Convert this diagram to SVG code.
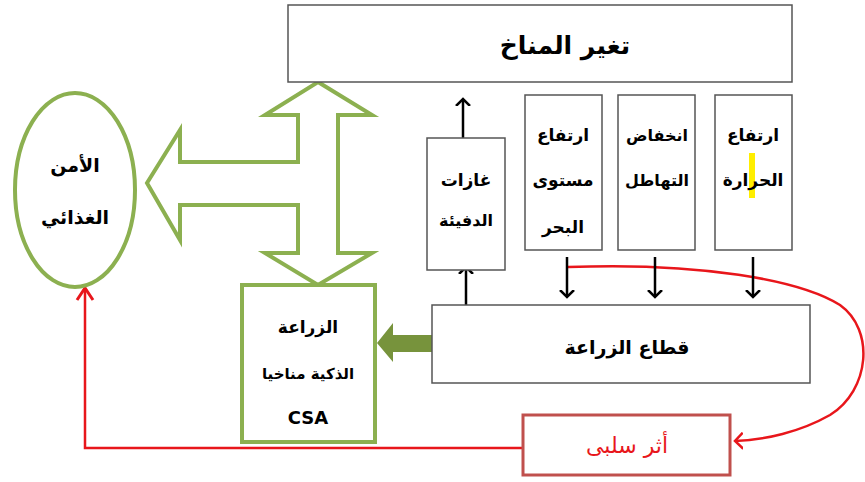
<svg xmlns="http://www.w3.org/2000/svg" width="865" height="482" viewBox="0 0 865 482">
<style>
.box{fill:#fff;stroke:#555;stroke-width:1.5}
.t{font-family:"DejaVu Sans","Liberation Sans",sans-serif;font-weight:bold;fill:#000;text-anchor:middle}
.g{fill:#fff;stroke:#8cb050;stroke-width:4;stroke-linejoin:miter}
.blk{stroke:#000;stroke-width:2.5;fill:none}
.red{stroke:#e8161b;stroke-width:2.5;fill:none}
</style>
<defs>
<marker id="ah" markerWidth="14" markerHeight="16" refX="7" refY="8" orient="auto" markerUnits="userSpaceOnUse">
<path d="M0,1 L7,8 L0,15" fill="none" stroke="#000" stroke-width="2.5"/>
</marker>
<marker id="rh" markerWidth="16" markerHeight="18" refX="8" refY="9" orient="auto" markerUnits="userSpaceOnUse">
<path d="M0,1 L8,9 L0,17" fill="none" stroke="#e8161b" stroke-width="2.5"/>
</marker>
</defs>
<rect width="865" height="482" fill="#fff"/>

<g id="connectors">
<path class="red" d="M85,290 L85,448 L523,448"/>
<path d="M77,300 L85,288 L93,300" fill="none" stroke="#e8161b" stroke-width="3"/>
<path class="red" d="M568,267 C700,262 800,280 840,305 C875,330 870,390 830,415 C800,432 765,440 735,441" marker-end="url(#rh)"/>
<line class="blk" x1="463" y1="138" x2="463" y2="99" marker-end="url(#ah)"/>
<line class="blk" x1="466" y1="305" x2="466" y2="267" marker-end="url(#ah)"/>
<line class="blk" x1="567" y1="257" x2="567" y2="297" marker-end="url(#ah)"/>
<line class="blk" x1="655" y1="257" x2="655" y2="297" marker-end="url(#ah)"/>
<line class="blk" x1="753" y1="257" x2="753" y2="297" marker-end="url(#ah)"/>
<path d="M432,335 L393,335 L393,323 L377,343 L393,362 L393,352 L432,352 Z" fill="#77933c"/>
<path class="g" d="M318,82 L372,115 L338,115 L338,253 L372,253 L318,285 L265,253 L298,253 L298,205 L180,205 L180,240 L147,183 L180,130 L180,162 L298,162 L298,115 L265,115 Z"/>
</g>

<g id="climate">
<rect class="box" x="288" y="5" width="504" height="77"/>
<text class="t" x="565" y="54" font-size="25">تغير المناخ</text>
</g>

<g id="food-security">
<ellipse cx="75" cy="190" rx="60" ry="97" fill="#fff" stroke="#8cb050" stroke-width="4"/>
<text class="t" x="75" y="172" font-size="19">الأمن</text>
<text class="t" x="75" y="224" font-size="19">الغذائي</text>
</g>

<g id="greenhouse">
<rect class="box" x="427" y="138" width="78" height="132"/>
<text class="t" x="466" y="186" font-size="17">غازات</text>
<text class="t" x="466" y="226" font-size="16">الدفيئة</text>
</g>

<g id="sea-level">
<rect class="box" x="525" y="95" width="77" height="155"/>
<text class="t" x="563" y="141" font-size="17">ارتفاع</text>
<text class="t" x="563" y="186" font-size="17">مستوى</text>
<text class="t" x="563" y="233" font-size="17">البحر</text>
</g>

<g id="precipitation">
<rect class="box" x="618" y="95" width="77" height="155"/>
<text class="t" x="657" y="141" font-size="16">انخفاض</text>
<text class="t" x="657" y="186" font-size="16">التهاطل</text>
</g>

<g id="temperature">
<rect class="box" x="715" y="95" width="77" height="155"/>
<rect x="749" y="153" width="6" height="45" fill="#ffee00"/>
<text class="t" x="753" y="141" font-size="17">ارتفاع</text>
<text class="t" x="753" y="186" font-size="17">الحرارة</text>
</g>

<g id="agriculture">
<rect class="box" x="432" y="305" width="378" height="78"/>
<text class="t" x="627" y="354" font-size="19">قطاع الزراعة</text>
</g>

<g id="csa">
<rect x="242" y="285" width="133" height="157" fill="#fff" stroke="#8cb050" stroke-width="4"/>
<text class="t" x="308" y="333" font-size="17">الزراعة</text>
<text class="t" x="308" y="379" font-size="15">الذكية مناخيا</text>
<text class="t" x="308" y="424" font-size="18" font-family="Liberation Sans, sans-serif">CSA</text>
</g>

<g id="negative">
<rect x="523" y="415" width="207" height="60" fill="#fff" stroke="#c0504d" stroke-width="3"/>
<text x="627" y="453" font-size="22" text-anchor="middle" fill="#e8161b" font-family="DejaVu Sans, sans-serif">أثر سلبى</text>
</g>
</svg>
